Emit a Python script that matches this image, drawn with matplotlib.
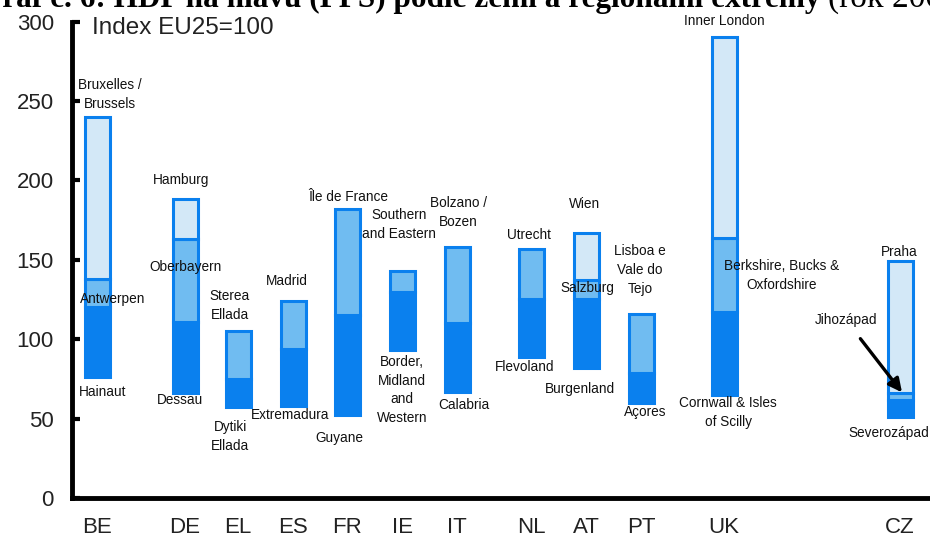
import matplotlib
matplotlib.use('Agg')
import matplotlib.pyplot as plt

plt.rcParams['font.family'] = ['Liberation Sans', 'DejaVu Sans']

# countries and regional extremes (Index EU25=100)
countries = ['BE', 'DE', 'EL', 'ES', 'FR', 'IE', 'IT', 'NL', 'AT', 'PT', 'UK', 'CZ']
min_vals = [76, 66, 57, 58, 52, 93, 67, 89, 82, 60, 65, 51]
avg_vals = [120, 111, 75, 94, 115, 130, 110, 125, 125, 79, 117, 62]
second_vals = [138, 163, 105, 124, 182, 143, 158, 157, 137, 116, 164, 66]
max_vals = [240, 188, 105, 124, 182, 143, 158, 157, 167, 116, 290, 149]

# region labels: (country index, text, x offset, y value)
labels = [
    (0, 'Bruxelles /\nBrussels', 13, 254),
    (0, 'Antwerpen', 16, 125),
    (0, 'Hainaut', 6, 67),
    (1, 'Hamburg', -4, 200),
    (1, 'Oberbayern', 0, 145.5),
    (1, 'Dessau', -5, 62),
    (2, 'Sterea\nEllada', -8, 121),
    (2, 'Dytiki\nEllada', -8, 38.5),
    (3, 'Madrid', -6, 136.5),
    (3, 'Extremadura', -3, 52.5),
    (4, 'Île de France', 1, 189.5),
    (4, 'Guyane', -8, 38),
    (5, 'Southern\nand Eastern', -3, 172),
    (5, 'Border,\nMidland\nand\nWestern', 0, 68),
    (6, 'Bolzano /\nBozen', 1, 179.5),
    (6, 'Calabria', 7, 58.5),
    (7, 'Utrecht', -2, 165.5),
    (7, 'Flevoland', -6, 82.5),
    (8, 'Wien', -2, 185),
    (8, 'Salzburg', 1, 132),
    (8, 'Burgenland', -6, 68.5),
    (9, 'Lisboa e\nVale do\nTejo', -1, 143.5),
    (9, 'Açores', 4, 54),
    (10, 'Inner London', 0, 300.5),
    (10, 'Berkshire, Bucks &\nOxfordshire', 58, 140),
    (10, 'Cornwall & Isles\nof Scilly', 4, 54),
    (11, 'Praha', -1, 155),
    (11, 'Severozápad', -11, 41),
]

# layout: bar centres in pixel-like units of the x axis
xpos = [97, 185, 238, 293, 347, 402, 457, 531, 586, 641, 724, 900]
bar_w = 25
dark = '#0A80EE'
medium = '#70BCF1'
light = '#D3E8F7'

fig = plt.figure(figsize=(9.3, 5.43), dpi=100)
ax = fig.add_axes([72 / 930, 45 / 543, 858 / 930, 476.5 / 543])

for i, x in enumerate(xpos):
    ax.bar(x, avg_vals[i] - min_vals[i], bottom=min_vals[i], width=bar_w,
           color=dark, edgecolor=dark, linewidth=2.2, zorder=2)
    ax.bar(x, second_vals[i] - avg_vals[i], bottom=avg_vals[i], width=bar_w,
           color=medium, edgecolor=dark, linewidth=2.2, zorder=2)
    if max_vals[i] > second_vals[i]:
        ax.bar(x, max_vals[i] - second_vals[i], bottom=second_vals[i], width=bar_w,
               color=light, edgecolor=dark, linewidth=2.2, zorder=2)

for ci, txt, dx, y in labels:
    ax.text(xpos[ci] + dx, y, txt, ha='center', va='center', fontsize=9.8,
            color='#111111', linespacing=1.45, zorder=3, clip_on=False)

# Jihozápad with arrow pointing at the second region of CZ
ax.annotate('Jihozápad', xy=(xpos[11] + 2, second_vals[11] + 0.5),
            xytext=(xpos[11] - 54, 112), ha='center', va='center',
            fontsize=9.8, color='#111111', zorder=4,
            arrowprops=dict(arrowstyle='-|>', color='black', lw=2.4,
                            mutation_scale=20, shrinkA=8, shrinkB=0))

ax.text(92, 296, 'Index EU25=100', ha='left', va='center', fontsize=17.5, color='#222222')

ax.set_xlim(72, 930)
ax.set_ylim(0, 300)
ax.set_yticks(range(0, 301, 50))
ax.set_xticks(xpos)
ax.set_xticklabels(countries)
ax.tick_params(axis='y', direction='in', length=6, width=3, labelsize=16, pad=13,
               colors='black', labelcolor='#222222')
ax.tick_params(axis='x', length=0, labelsize=16, pad=14, labelcolor='#222222')

for s in ['top', 'right']:
    ax.spines[s].set_visible(False)
ax.spines['left'].set_linewidth(3.5)
ax.spines['bottom'].set_linewidth(3.5)
ax.spines['left'].set_capstyle('projecting')
ax.spines['bottom'].set_capstyle('projecting')

# clipped caption at the top of the picture
fig.text(820 / 930, 1 - 7 / 543, 'Graf č. 6: HDP na hlavu (PPS) podle zemí a regionální extrémy',
         ha='right', va='baseline', fontsize=22.5, fontweight='bold', family='Liberation Serif')
fig.text(828 / 930, 1 - 7 / 543, '(rok 2005)', ha='left', va='baseline', fontsize=24,
         family='Liberation Serif')

fig.savefig('out.png', dpi=100)
